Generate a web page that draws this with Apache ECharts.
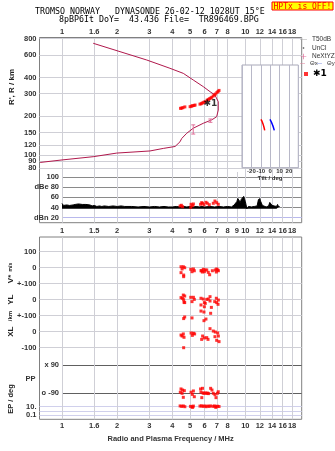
<!DOCTYPE html>
<html>
<head>
<meta charset="utf-8">
<script src="https://cdn.jsdelivr.net/npm/echarts@6/dist/echarts.min.js"></script>
<style>
  html, body { margin: 0; padding: 0; background: #fff; }
  #chart { width: 335px; height: 451px; }
</style>
</head>
<body>
<div id="chart"></div>
<script>
const lg = Math.log10;

// axis extents
const F_MIN = 0.7537, F_MAX = 20.31;   // MHz
const R_MIN = 74.2, R_MAX = 810;       // km

// tick labels
const topFreqTicks = [1, 1.5, 2, 3, 4, 5, 6, 7, 8, 10, 12, 14, 16, 18];
const topFreqLabels = ['1', '1.6', '2', '3', '4', '5', '6', '7', '8', '10', '12', '14', '16', '18'];
const midFreqTicks = [1, 1.5, 2, 3, 4, 5, 6, 7, 8, 9, 10, 12, 14, 16, 18];
const midFreqLabels = ['1', '1.5', '2', '3', '4', '5', '6', '7', '8', '9', '10', '12', '14', '16', '18'];
// range ticks, split over overlaid axes so close labels are not dropped
const rangeTicksA = [80, 100, 150, 300, 600];
const rangeTicksB = [90, 120, 400, 800];
const rangeTicksC = [200];
const dbeTicks = [20, 40, 60, 80, 100];
const dbeLabels = ['dBn 20', '40', '60', 'dBe 80', '100'];
const rowTicks = [-100, 0, 100, 200, 300, 400, 500];
const rowLabels = ['-100', '0', '+-100', '0', '+-100', '0', '100'];
const ppTicks = [-90, 90];
const ppLabels = ['o -90', 'x 90'];
const epTicks = [0.1, 1, 10];
const epLabels = ['0.1', '', '10.'];

// real-height profile (NeXtYZ)
const profileFreq = [1.48, 2.90, 3.88, 4.59, 5.20, 5.90, 6.42, 6.83, 7.12, 7.12, 6.98, 6.56, 5.90, 5.20, 4.79, 4.50, 4.40, 4.14, 3.57, 3.02, 1.99, 1.48, 1.00, 0.76];
const profileRange = [737, 547, 472, 431, 383, 340, 311, 293, 260, 224, 199, 188, 177, 162, 148, 135, 127, 117, 113, 108, 104, 97.5, 92, 88];
const errFreq = [5.20, 6.45];
const errHigh = [172, 191];
const errLow = [146, 180];

// echoes (*1)
const echoFreq = [4.43, 4.50, 4.57, 4.68, 5.00, 5.08, 5.15, 5.25, 5.32, 5.66, 5.75, 5.83, 5.93, 6.03, 6.19, 6.28, 6.37, 6.47, 6.56, 6.68, 6.78, 6.87, 7.00, 7.10, 7.19];
const echoRange = [231, 232, 234, 237, 238, 240, 242, 243, 245, 249, 251, 254, 257, 260, 267, 270, 274, 277, 281, 288, 293, 298, 306, 312, 318];

// tilt inset
const tiltXDeg = [-9.8, -9.2, -8.6, -7.6, -7.3, -6.5, -5.8];
const tiltXRange = [190, 185, 183, 175, 171, 164, 156];
const tiltYDeg = [-0.2, 0.6, 1.3, 2.0, 2.8, 3.5, 4.4];
const tiltYRange = [190, 186, 181, 176, 170, 164, 156];

// dBe noise trace
const noiseFreq = [1.00, 1.02, 1.04, 1.06, 1.08, 1.10, 1.12, 1.15, 1.18, 1.20,
  1.23, 1.26, 1.29, 1.32, 1.35, 1.38, 1.42, 1.46, 1.50, 1.55,
  1.60, 1.65, 1.70, 1.80, 1.90, 2.00, 2.10, 2.20, 2.40, 2.60,
  2.80, 3.00, 3.20, 3.40, 3.60, 3.80, 4.00, 4.20, 4.40, 4.60,
  4.80, 5.00, 5.20, 5.40, 5.60, 5.80, 6.00, 6.40, 6.80, 7.20,
  7.60, 8.00, 8.40, 8.70, 8.80, 9.00, 9.10, 9.20, 9.30, 9.40,
  9.50, 9.60, 9.70, 9.80, 9.90, 10.0, 10.1, 10.2, 10.4, 10.8,
  11.2, 11.6, 11.8, 11.9, 12.0, 12.1, 12.2, 12.4, 12.6, 13.0,
  13.4, 13.6, 13.8, 14.0, 14.2, 14.4, 14.6, 14.8, 15.0, 15.2,
  15.4];
const noiseLevel = [48, 44, 47, 45, 46, 44, 47, 45, 46, 44,
  47, 45, 46, 44, 46, 43, 45, 43, 44, 42,
  43, 42, 43, 42, 43, 42, 43, 42, 42, 41,
  42, 41, 42, 41, 42, 41, 41, 42, 41, 42,
  41, 42, 41, 42, 41, 42, 41, 42, 41, 42,
  41, 42, 41, 45, 42, 52, 58, 55, 60, 50,
  56, 58, 54, 62, 57, 52, 45, 37, 42, 41,
  42, 43, 56, 52, 58, 53, 56, 44, 42, 41,
  43, 50, 47, 44, 46, 43, 45, 42, 46, 41,
  42];
const dbeFreq = [4.41, 4.55, 4.48, 5.06, 5.16, 5.04, 5.21, 5.70, 5.84, 5.95, 6.10, 6.20, 6.36, 6.69, 6.83, 6.98, 7.12, 5.78];
const dbeVal = [42.9, 41.5, 44.3, 46.3, 43.5, 40.3, 46.9, 46.3, 48.3, 45.5, 50.2, 48.3, 45.5, 48.3, 52.8, 49.5, 46.3, 49.5];

// V*, YL, XL
const vFreq = [4.46, 4.59, 4.52, 4.67, 4.46, 4.61, 4.61, 5.04, 5.21, 5.12, 5.27, 5.78, 5.90, 5.98, 5.83, 5.73, 6.03, 6.16, 6.28, 6.39, 6.61, 6.86, 6.98, 7.13, 6.95, 7.07];
const vVal = [6, 6, -8, 0, -31, -46, -56, -10, -8, -25, -19, -19, -10, -25, -27, -19, -14, -14, -29, -44, -19, -14, -8, -19, -27, -14];
const ylFreq = [4.46, 4.59, 4.67, 4.54, 4.63, 4.67, 4.61, 5.04, 5.21, 5.27, 5.12, 5.73, 5.90, 5.98, 6.16, 6.28, 6.42, 6.05, 5.73, 5.98, 6.53, 6.42, 6.81, 6.95, 7.13, 6.98, 7.10, 5.73, 5.95, 6.47];
const ylVal = [13, 29, 23, 9, -16, -18, 0, 15, 15, 2, -12, 9, 4, -18, 2, 4, 19, -23, -33, -44, -48, -8, -12, 9, -2, -18, -29, -71, -77, -85];
const xlFreq = [4.61, 4.67, 5.12, 6.10, 5.95, 4.46, 4.59, 4.52, 4.63, 5.06, 5.21, 5.14, 5.29, 5.85, 5.98, 5.78, 6.16, 6.26, 6.42, 6.69, 6.86, 7.07, 6.83, 7.13, 6.98, 7.19, 4.61];
const xlVal = [82, 92, 86, 79, 69, -21, -14, -27, -35, -8, -10, -23, -14, -27, -39, -48, -37, -48, 19, 4, -2, -8, -31, -27, -54, -62, -100];

// PP and EP
const ppFreq = [4.46, 4.55, 4.65, 4.42, 4.52, 4.59, 5.06, 5.21, 5.14, 5.27, 5.70, 5.84, 5.73, 5.79, 5.95, 6.16, 6.31, 6.47, 6.58, 6.69, 6.83, 6.92, 7.04, 7.12, 5.88, 6.05, 6.23];
const ppVal = [-64, -71, -75, -85, -92, -118, -85, -77, -99, -114, -64, -60, -84, -120, -92, -92, -94, -60, -71, -92, -101, -120, -92, -82, -90, -90, -91];
const epFreq = [4.41, 4.50, 4.59, 4.68, 5.02, 5.12, 5.21, 5.66, 5.77, 5.88, 6.00, 6.11, 6.23, 6.35, 6.47, 6.67, 6.79, 6.92, 7.05, 7.19, 5.16, 6.90];
const epVal = [15, 12, 15, 10, 12, 9, 14, 14, 16, 12, 15, 10, 14, 12, 15, 12, 15, 10, 13, 11, 7, 7];

const ident = v => v;
// pick the label of the nearest tick
function tickFmt(ticks, labels, tf) {
  return v => {
    let best = -1, bestD = Infinity;
    ticks.forEach((t, i) => {
      const d = Math.abs(tf(t) - v);
      if (d < bestD) { bestD = d; best = i; }
    });
    return bestD < 1e-3 * Math.max(1, Math.abs(v)) ? labels[best] : '';
  };
}
const zip = (a, b, fa, fb) => a.map((x, i) => [fa(x), fb(b[i])]);

const LBL = { fontFamily: 'Liberation Sans', fontWeight: 'bold', fontSize: 7.5, color: '#333', hideOverlap: false };
const GRIDLINE = '#cfcfd6';
const RED = '#ff0000';

function hidden(gridIndex) {
  return { gridIndex, type: 'value', show: false, min: 0, max: 1 };
}
function freqAxis(gridIndex, min, ticks, labels, margin, extra) {
  const vals = ticks.map(lg);
  return Object.assign({
    gridIndex, type: 'value', min, max: lg(F_MAX),
    axisLine: { show: false },
    axisTick: { show: false, customValues: vals },
    axisLabel: Object.assign({ customValues: vals, formatter: tickFmt(ticks, labels, lg), margin }, LBL),
    splitLine: { show: true, lineStyle: { color: GRIDLINE, width: 1 } }
  }, extra || {});
}
function valueAxis(gridIndex, min, max, ticks, labels, tf, lineColor, extra) {
  const vals = ticks.map(tf);
  return Object.assign({
    gridIndex, type: 'value', min, max, position: 'left',
    axisLine: { show: false },
    axisTick: { show: false, customValues: vals },
    axisLabel: Object.assign({ customValues: vals, formatter: tickFmt(ticks, labels, tf), margin: 3 }, LBL),
    splitLine: { show: true, lineStyle: { color: lineColor, width: 1 } }
  }, extra || {});
}

const lineIcon = 'path://M0,0h0.01v0.01h-0.01zM0,4.5h10v1h-10zM10,10h0.01v0.01h-0.01z';
const dotIcon = 'path://M0,0h0.01v0.01h-0.01zM4,4h2v2h-2zM10,10h0.01v0.01h-0.01z';
const plusIcon = 'path://M0,0h0.01v0.01h-0.01zM4.5,1h1v8h-1zM1,4.5h8v1h-8zM10,10h0.01v0.01h-0.01z';

const legendText = { fontFamily: 'Liberation Sans', fontSize: 6.5, color: '#333' };
function legendBox(left, top, items, extra) {
  return Object.assign({
    orient: 'vertical', left, top, padding: 0, itemWidth: 7, itemHeight: 7, itemGap: 1.5,
    selectedMode: false, textStyle: legendText, itemStyle: { borderWidth: 0 }, data: items
  }, extra || {});
}

const sideLabels = [
  { type: 'text', x: 12, y: 87, rotation: Math.PI / 2,
    style: { text: "R', R / km", font: 'bold 8px "Liberation Sans"', fill: '#222', align: 'center', verticalAlign: 'middle' } },
  { type: 'text', x: 10.5, y: 273, rotation: Math.PI / 2,
    style: { text: '{a|V*} {b|m/s}', align: 'center', verticalAlign: 'middle',
      rich: { a: { font: 'bold 8px "Liberation Sans"', fill: '#222' }, b: { font: 'bold 5px "Liberation Sans"', fill: '#222' } } } },
  { type: 'text', x: 10.5, y: 299.7, rotation: Math.PI / 2,
    style: { text: 'YL', font: 'bold 8px "Liberation Sans"', fill: '#222', align: 'center', verticalAlign: 'middle' } },
  { type: 'text', x: 10.5, y: 316, rotation: Math.PI / 2,
    style: { text: '/km', font: 'bold 6px "Liberation Sans"', fill: '#222', align: 'center', verticalAlign: 'middle' } },
  { type: 'text', x: 10.5, y: 331.7, rotation: Math.PI / 2,
    style: { text: 'XL', font: 'bold 8px "Liberation Sans"', fill: '#222', align: 'center', verticalAlign: 'middle' } },
  { type: 'text', x: 11, y: 399, rotation: Math.PI / 2,
    style: { text: 'EP / deg', font: 'bold 7.5px "Liberation Sans"', fill: '#222', align: 'center', verticalAlign: 'middle' } }
];

const option = {
  animation: false,
  backgroundColor: '#fff',
  title: [
    { text: 'TROMSO NORWAY   DYNASONDE 26-02-12 1028UT 15°E', left: 35, top: 7.5, padding: 0,
      textStyle: { fontFamily: 'DejaVu Sans Mono', fontSize: 8.3, fontWeight: 'normal', color: '#000' } },
    { text: '8pBP6It DoY=  43.436 File=  TR896469.BPG', left: 59, top: 15.5, padding: 0,
      textStyle: { fontFamily: 'DejaVu Sans Mono', fontSize: 8.3, fontWeight: 'normal', color: '#000' } },
    { text: 'HPTx is OFF!', left: 271.5, top: 1.5, padding: [1, 2, 0, 2],
      backgroundColor: '#ffff00', borderColor: '#ff0000', borderWidth: 1,
      textStyle: { fontFamily: 'DejaVu Sans Mono', fontSize: 8, fontWeight: 'normal', color: '#ff0000' } }
  ],
  legend: [
    legendBox(300, 36, [
      { name: 'T50dB', icon: lineIcon, itemStyle: { color: '#aaaaaa' } },
      { name: 'UnCl', icon: dotIcon, itemStyle: { color: '#333333' } },
      { name: 'NeXtYZ', icon: plusIcon, itemStyle: { color: '#e0709a' } }
    ]),
    legendBox(300, 60.5, [{ name: 'Θx', icon: lineIcon, itemStyle: { color: '#e0809a' } }],
      { itemWidth: 5, textStyle: Object.assign({}, legendText, { fontSize: 6 }) }),
    legendBox(317, 60.5, [{ name: 'Θy', icon: lineIcon, itemStyle: { color: '#8090e0' } }],
      { itemWidth: 5, textStyle: Object.assign({}, legendText, { fontSize: 6 }) }),
    legendBox(304, 69.5, [{ name: '✱1', icon: 'rect', itemStyle: { color: RED } }],
      { itemWidth: 4, itemHeight: 4, textStyle: { fontFamily: 'DejaVu Sans', fontSize: 9, fontWeight: 'bold', color: '#000' } })
  ],
  grid: [
    { left: 39.5, top: 37.5, width: 262.2, height: 185.2, show: true, borderColor: '#808080', borderWidth: 1, backgroundColor: 'transparent', outerBoundsMode: 'none' },
    { left: 39.5, top: 38, width: 262.2, height: 134, outerBoundsMode: 'none' },
    { left: 242, top: 65, width: 56.3, height: 102.7, show: true, backgroundColor: '#fff', borderColor: '#a8a8b8', borderWidth: 1, z: 3, outerBoundsMode: 'none' },
    { left: 62, top: 172, width: 239.7, height: 50.7, outerBoundsMode: 'none' },
    { left: 39.5, top: 237, width: 262.2, height: 182.3, show: true, borderColor: '#808080', borderWidth: 1, backgroundColor: 'transparent', outerBoundsMode: 'none' },
    { left: 62, top: 356, width: 239.7, height: 46, outerBoundsMode: 'none' },
    { left: 39.5, top: 402, width: 262.2, height: 17.3, outerBoundsMode: 'none' }
  ],
  xAxis: [
    hidden(0),
    freqAxis(1, lg(F_MIN), topFreqTicks, topFreqLabels, 2, { position: 'top' }),
    { gridIndex: 2, type: 'value', min: -30, max: 30, interval: 10, z: 4,
      axisLine: { show: false }, axisTick: { show: false },
      axisLabel: { margin: 1, fontFamily: 'Liberation Sans', fontWeight: 'bold', fontSize: 6, color: '#333', hideOverlap: false,
        formatter: v => (Math.abs(v) === 30 ? '' : String(v)) },
      splitLine: { show: true, lineStyle: { color: '#b8b8c8', width: 1 } },
      name: 'Tilt / deg', nameLocation: 'middle', nameGap: 5,
      nameTextStyle: { fontFamily: 'Liberation Sans', fontWeight: 'bold', fontSize: 6, color: '#333' } },
    freqAxis(3, 0, midFreqTicks, midFreqLabels, 4),
    freqAxis(4, lg(F_MIN), topFreqTicks, topFreqLabels, 3, {
      name: 'Radio and Plasma Frequency / MHz', nameLocation: 'middle', nameGap: 16,
      nameTextStyle: { fontFamily: 'Liberation Sans', fontWeight: 'bold', fontSize: 7.5, color: '#333' } }),
    Object.assign(hidden(5), { min: 0, max: lg(F_MAX) }),
    Object.assign(hidden(6), { min: lg(F_MIN), max: lg(F_MAX) })
  ],
  yAxis: [
    hidden(0),
    valueAxis(1, lg(R_MIN), lg(R_MAX), rangeTicksA, rangeTicksA.map(String), lg, GRIDLINE),
    // inset shares the range scale of the main panel
    { gridIndex: 2, type: 'value', show: false, min: 3.2028 - 167.7 / 129.1, max: 3.2028 - 65 / 129.1 },
    valueAxis(3, 9.7, 110.5, dbeTicks, dbeLabels, ident, ['#b8b8ec', '#8a8a8a', '#8a8a8a', '#8a8a8a', '#8a8a8a']),
    valueAxis(4, -547.5, 591.9, rowTicks, rowLabels, ident, GRIDLINE),
    valueAxis(5, -148, 148, ppTicks, ppLabels, ident, '#606060', {
      name: 'PP', nameLocation: 'middle', nameRotate: 0, nameGap: 11,
      nameTextStyle: { fontFamily: 'Liberation Sans', fontWeight: 'bold', fontSize: 7.5, color: '#333' } }),
    valueAxis(6, -2.04, 2.13, epTicks, epLabels, lg, '#d0d0ec'),
    valueAxis(1, lg(R_MIN), lg(R_MAX), rangeTicksB, rangeTicksB.map(String), lg, GRIDLINE),
    // 200 km: gridline from the axis, its label is placed below from the same axis scale
    valueAxis(1, lg(R_MIN), lg(R_MAX), rangeTicksC, rangeTicksC.map(String), lg, GRIDLINE,
      { axisLabel: { show: false } })
  ],
  graphic: sideLabels,
  series: [
    { name: 'T50dB', type: 'line', xAxisIndex: 1, yAxisIndex: 1, data: [], color: '#aaaaaa' },
    { name: 'UnCl', type: 'scatter', xAxisIndex: 1, yAxisIndex: 1, data: [], color: '#333333' },
    { name: 'NeXtYZ', type: 'line', xAxisIndex: 1, yAxisIndex: 1, z: 3,
      data: zip(profileFreq, profileRange, lg, lg), symbol: 'none', color: '#e0709a',
      lineStyle: { color: '#b0184c', width: 1 } },
    { type: 'custom', xAxisIndex: 1, yAxisIndex: 1, z: 4,
      data: errFreq.map((f, i) => [lg(f), lg(errHigh[i]), lg(errLow[i])]),
      encode: { x: 0, y: [1, 2] },
      renderItem: (params, api) => {
        const a = api.coord([api.value(0), api.value(1)]);
        const b = api.coord([api.value(0), api.value(2)]);
        const w = 2;
        const st = { stroke: '#e0709a', lineWidth: 1 };
        return { type: 'group', children: [
          { type: 'line', shape: { x1: a[0], y1: a[1], x2: b[0], y2: b[1] }, style: st },
          { type: 'line', shape: { x1: a[0] - w, y1: a[1], x2: a[0] + w, y2: a[1] }, style: st },
          { type: 'line', shape: { x1: b[0] - w, y1: b[1], x2: b[0] + w, y2: b[1] }, style: st }
        ] };
      } },
    { name: '✱1', type: 'scatter', xAxisIndex: 1, yAxisIndex: 1, z: 5, symbol: 'rect', symbolSize: 3, color: RED,
      data: zip(echoFreq, echoRange, lg, lg).map((p, i) => (i === 9
        ? { value: p, label: { show: true, position: 'right', distance: 2, formatter: '✱1',
            fontFamily: 'DejaVu Sans', fontWeight: 'bold', fontSize: 9, color: '#000' } }
        : p)) },
    { name: 'Θx', type: 'line', xAxisIndex: 2, yAxisIndex: 2, z: 6, color: '#e0809a', symbol: 'none',
      data: zip(tiltXDeg, tiltXRange, ident, lg), lineStyle: { color: '#ff0000', width: 1.5 } },
    { name: 'Θy', type: 'line', xAxisIndex: 2, yAxisIndex: 2, z: 6, color: '#8090e0', symbol: 'none',
      data: zip(tiltYDeg, tiltYRange, ident, lg), lineStyle: { color: '#0000ff', width: 1.5 } },
    { type: 'line', xAxisIndex: 3, yAxisIndex: 3, z: 3, symbol: 'none',
      data: zip(noiseFreq, noiseLevel, lg, ident),
      lineStyle: { color: '#000', width: 1 }, areaStyle: { color: '#000', opacity: 1, origin: 37.5 } },
    { name: '✱1', type: 'scatter', xAxisIndex: 3, yAxisIndex: 3, z: 5, symbol: 'rect', symbolSize: 3, color: RED,
      data: zip(dbeFreq, dbeVal, lg, ident) },
    { name: '✱1', type: 'scatter', xAxisIndex: 4, yAxisIndex: 4, z: 5, symbol: 'rect', symbolSize: 3, color: RED,
      data: [].concat(
        zip(vFreq, vVal, lg, v => 400 + v),
        zip(ylFreq, ylVal, lg, v => 200 + v),
        zip(xlFreq, xlVal, lg, ident)) },
    { name: '✱1', type: 'scatter', xAxisIndex: 5, yAxisIndex: 5, z: 5, symbol: 'rect', symbolSize: 3, color: RED,
      data: zip(ppFreq, ppVal, lg, ident) },
    { name: '✱1', type: 'scatter', xAxisIndex: 6, yAxisIndex: 6, z: 5, symbol: 'rect', symbolSize: 3, color: RED,
      data: zip(epFreq, epVal, lg, lg) }
  ]
};

const chart = echarts.init(document.getElementById('chart'));
chart.setOption(option);

// ECharts drops the 200 label in this tight panel, so set it as text at the axis position
const y200 = chart.convertToPixel({ yAxisIndex: 8 }, lg(rangeTicksC[0]));
const gridLeft = option.grid[1].left;
chart.setOption({
  graphic: sideLabels.concat([{
    type: 'text', x: gridLeft - 3, y: y200,
    style: { text: String(rangeTicksC[0]), font: 'bold 7.5px "Liberation Sans"', fill: '#333', align: 'right', verticalAlign: 'middle' }
  }])
});
</script>
</body>
</html>
